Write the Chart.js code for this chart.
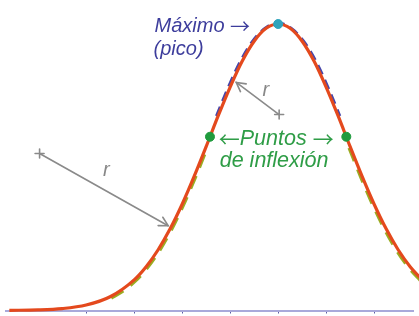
<!DOCTYPE html>
<html><head><meta charset="utf-8">
<script src="https://cdn.jsdelivr.net/npm/chart.js@4/dist/chart.umd.min.js"></script>
<style>html,body{margin:0;padding:0;background:#fff;}#wrap{width:419px;height:316px;}</style>
</head><body><div id="wrap"><canvas id="c" width="419" height="316"></canvas></div>
<script>
// ---- data ----
const xValues = [-0.6,0,0.5,1,1.5,2,2.25,2.5,2.75,3,3.25,3.5,3.75,4,4.25,4.5,4.75,5,5.25,5.5,5.75,6,6.25,6.5,6.75,7,7.25,7.5,7.75,8];
const curveValues = [0.0004,0.002,0.0066,0.019,0.048,0.107,0.153,0.212,0.285,0.371,0.468,0.572,0.679,0.780,0.870,0.940,0.985,1,0.985,0.940,0.870,0.780,0.679,0.572,0.468,0.371,0.285,0.212,0.153,0.107];
const peakX = [3.715,3.965,4.215,4.47,4.73,5.0,5.27,5.53,5.785,6.035,6.285];
const peakValues = [0.679,0.780,0.870,0.940,0.985,1.004,0.985,0.940,0.870,0.780,0.679];
const leftFlankX = [1.525,1.775,2.025,2.275,2.525,2.775,3.025,3.275,3.525];
const leftFlankValues = [0.043,0.068,0.102,0.148,0.207,0.280,0.366,0.463,0.567];
const rightFlankX = [6.475,6.725,6.975,7.225,7.475,7.725,7.975];
const rightFlankValues = [0.567,0.463,0.366,0.280,0.207,0.148,0.102];
const maxPoint = {x:5, y:1};
const inflectionX = [3.58, 6.42];
const inflectionValues = [0.6065, 0.6065];
const tickValues = [1,2,3,4,5,6,7];

const pts = (xs, ys) => xs.map((x,i)=>({x:x, y:ys[i]}));

const TXT = (s)=>'italic '+s+'px "Liberation Sans", Arial, sans-serif';
const ARR = (s)=>s+'px "Noto Sans CJK SC", "DejaVu Sans", sans-serif';

// annotations in data units
const notes = [
  {x:2.424, y:0.973, c:'#3d3d9c', parts:[['Máximo',TXT(20),0],[' ',TXT(20),0],['→',ARR(20),2]]},
  {x:2.404, y:0.891, c:'#3d3d9c', parts:[['(pico)',TXT(20),0]]},
  {x:3.763, y:0.578, c:'#2f9d47', parts:[['←',ARR(21),2],['Puntos',TXT(21.5),0],[' ',TXT(21.5),0],['→',ARR(21),2]]},
  {x:3.783, y:0.500, c:'#2f9d47', parts:[['de inflexión',TXT(21.5),0]]},
  {x:1.349, y:0.469, c:'#888888', parts:[['r',TXT(20),0]]},
  {x:4.676, y:0.748, c:'#888888', parts:[['r',TXT(20),0]]}
];
const arrows = [
  {x0:0.030, y0:0.548, x1:2.708, y1:0.296},
  {x0:5.021, y0:0.684, x1:4.128, y1:0.796}
];

const annot = {
  id:'annot',
  afterDatasetsDraw(chart){
    const ctx = chart.ctx, xs = chart.scales.x, ys = chart.scales.y;
    ctx.save();
    ctx.strokeStyle = '#8a8a8a'; ctx.lineWidth = 1.6; ctx.lineCap='round';
    arrows.forEach(a=>{
      const X0=xs.getPixelForValue(a.x0), Y0=ys.getPixelForValue(a.y0);
      const X1=xs.getPixelForValue(a.x1), Y1=ys.getPixelForValue(a.y1);
      ctx.beginPath(); ctx.moveTo(X0,Y0); ctx.lineTo(X1,Y1); ctx.stroke();
      const ang = Math.atan2(Y1-Y0, X1-X0), L=10, w=0.5;
      ctx.beginPath();
      ctx.moveTo(X1-L*Math.cos(ang-w), Y1-L*Math.sin(ang-w));
      ctx.lineTo(X1,Y1);
      ctx.lineTo(X1-L*Math.cos(ang+w), Y1-L*Math.sin(ang+w));
      ctx.stroke();
      const s=4.5;
      ctx.beginPath();
      ctx.moveTo(X0-s,Y0); ctx.lineTo(X0+s,Y0);
      ctx.moveTo(X0,Y0-s); ctx.lineTo(X0,Y0+s);
      ctx.stroke();
    });
    ctx.textAlign='left'; ctx.textBaseline='alphabetic';
    notes.forEach(n=>{
      ctx.fillStyle = n.c;
      let px = xs.getPixelForValue(n.x);
      const py = ys.getPixelForValue(n.y);
      n.parts.forEach(p=>{
        ctx.font = p[1];
        ctx.fillText(p[0], px, py + p[2]);
        px += ctx.measureText(p[0]).width;
      });
    });
    ctx.restore();
  }
};

new Chart(document.getElementById('c'), {
  type:'line',
  data:{datasets:[
    {data:[maxPoint], showLine:false, pointRadius:4.5, pointBackgroundColor:'#2fa3bb', pointBorderColor:'#2fa3bb', order:0, clip:false},
    {data:pts(inflectionX, inflectionValues), showLine:false, pointRadius:4.5, pointBackgroundColor:'#1f9b3d', pointBorderColor:'#1f9b3d', order:0, clip:false},
    {data:pts(xValues, curveValues), borderColor:'#e4491d', borderWidth:3.2, pointRadius:0, cubicInterpolationMode:'monotone', order:1, clip:false},
    {data:pts(peakX, peakValues), borderColor:'#4646aa', borderWidth:3, borderDash:[10,6], pointRadius:0, cubicInterpolationMode:'monotone', order:2, clip:false},
    {data:pts(leftFlankX, leftFlankValues), borderColor:'#9aac22', borderWidth:3, borderDash:[14,9], pointRadius:0, cubicInterpolationMode:'monotone', order:3, clip:false},
    {data:pts(rightFlankX, rightFlankValues), borderColor:'#9aac22', borderWidth:3, borderDash:[14,9], pointRadius:0, cubicInterpolationMode:'monotone', order:3, clip:false}
  ]},
  options:{
    responsive:false, animation:false, devicePixelRatio:1,
    layout:{padding:0},
    plugins:{legend:{display:false}, tooltip:{enabled:false}},
    scales:{
      x:{type:'linear', min:-0.68, max:7.82,
         afterBuildTicks:(s)=>{s.ticks = tickValues.map(v=>({value:v}));},
         ticks:{display:false},
         grid:{display:true, drawOnChartArea:false, drawTicks:true, tickLength:3, color:'#5c5ca6', lineWidth:1},
         border:{display:true, color:'#a9a9da', width:2}},
      y:{type:'linear', min:0, max:1.0646, display:false}
    }
  },
  plugins:[annot]
});
</script></body></html>
